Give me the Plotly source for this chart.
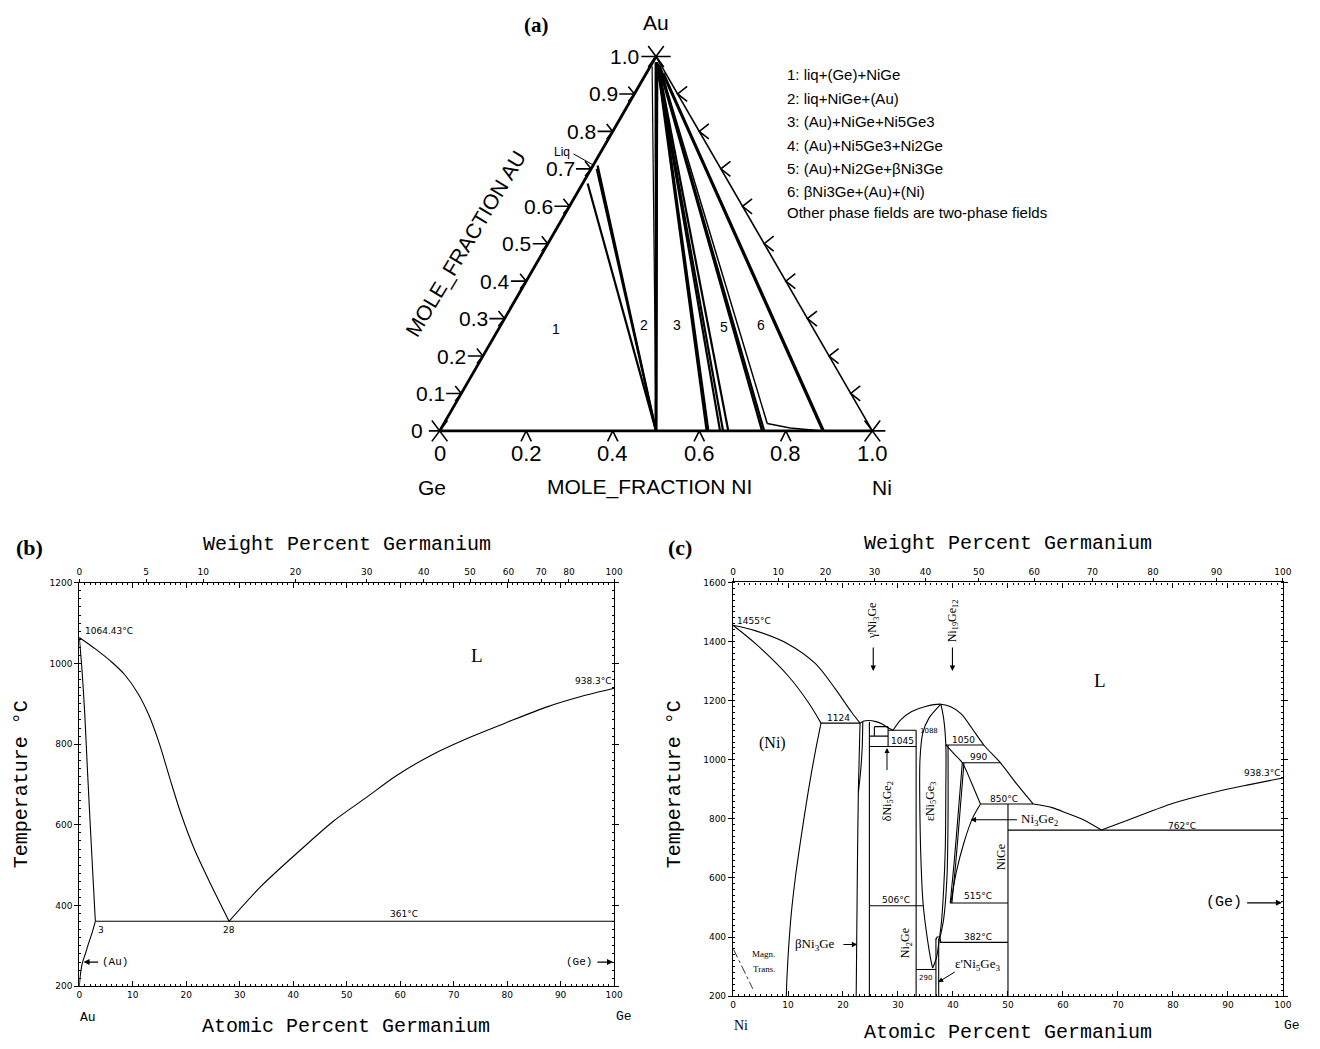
import plotly.graph_objects as go

W, H = 1320, 1049
M_AU, M_GE, M_NI = 196.97, 72.63, 58.69

# ---------------- Panel (a): Au-Ge-Ni isothermal section (mole fractions) ----------------
au_tick_vals = [0.0, 0.1, 0.2, 0.3, 0.4, 0.5, 0.6, 0.7, 0.8, 0.9, 1.0]
au_tick_text = ["0", "0.1", "0.2", "0.3", "0.4", "0.5", "0.6", "0.7", "0.8", "0.9", "1.0"]
ni_tick_vals = [0.0, 0.2, 0.4, 0.6, 0.8, 1.0]
ni_tick_text = ["0", "0.2", "0.4", "0.6", "0.8", "1.0"]
# tie lines: start (x_Ni, x_Au) -> end (x_Ni, x_Au)
tie_start_ni = [0.0105, 0.013, 0.0115, 0.004, 0.007, 0.010, 0.012, 0.010, 0.015, 0.012, 0.016, 0.018, 0.015, 0.020, 0.025, 0.020, 0.040]
tie_start_au = [0.709, 0.700, 0.661, 0.974, 0.985, 0.985, 0.980, 0.985, 0.980, 0.980, 0.975, 0.975, 0.980, 0.975, 0.970, 0.975, 0.955]
tie_end_ni = [0.500, 0.500, 0.500, 0.500, 0.500, 0.500, 0.500, 0.617, 0.621, 0.648, 0.655, 0.667, 0.745, 0.750, 0.747, 0.885, 0.888]
tie_end_au = [0.0, 0.0, 0.0, 0.0, 0.0, 0.0, 0.0, 0.0, 0.0, 0.0, 0.0, 0.0, 0.0, 0.0, 0.020, 0.0, 0.0]
tie_width = [2.2, 2.2, 2.2, 1.2, 2.5, 2.5, 2.5, 2.2, 2.2, 2.2, 2.2, 2.2, 2.2, 2.2, 1.5, 2.2, 2.2]
ni3ge_bound_ni = [0.747, 0.806, 0.885]
ni3ge_bound_au = [0.020, 0.008, 0.0]
region_labels = ["1", "2", "3", "5", "6"]
region_ni = [0.132, 0.330, 0.406, 0.517, 0.602]
region_au = [0.272, 0.283, 0.283, 0.278, 0.283]
legend_lines = ["1: liq+(Ge)+NiGe", "2: liq+NiGe+(Au)", "3: (Au)+NiGe+Ni5Ge3",
                "4: (Au)+Ni5Ge3+Ni2Ge", "5: (Au)+Ni2Ge+βNi3Ge", "6: βNi3Ge+(Au)+(Ni)",
                "Other phase fields are two-phase fields"]

# ---------------- Panel (b): Au-Ge binary ----------------
b_wt_ticks = [0, 5, 10, 20, 30, 40, 50, 60, 70, 80, 100]
b_liq_au_x = [0, 3, 6.1, 8.5, 11, 13, 15, 17, 19, 21.5, 24.6, 28]
b_liq_au_t = [1064.43, 1036, 1003, 972, 925, 872, 800, 712, 628, 540, 452, 361]
b_liq_ge_x = [28, 34, 41.3, 47.5, 53.7, 59.2, 66, 73.4, 79.6, 87.6, 93.8, 100]
b_liq_ge_t = [361, 448, 537, 609, 668, 721, 774, 819, 852, 893, 918, 938.3]
b_sol_x = [0, 0.5, 1.0, 1.5, 2.2, 3]
b_sol_t = [1064.43, 985, 880, 742, 560, 361]
b_solv_x = [3, 2.4, 1.7, 1.2, 0.6, 0.2, 0]
b_solv_t = [361, 333, 305, 283, 259, 228, 200]
b_eut_x = [3, 100]
b_eut_t = [361, 361]

# ---------------- Panel (c): Ni-Ge binary ----------------
c_wt_ticks = [0, 10, 20, 30, 40, 50, 60, 70, 80, 90, 100]
# name: (at.% Ge, temperature, smooth?)
c_lines = {
    "liq_ni": ([0, 4, 10, 15, 18.6, 21.6, 23.1], [1455, 1437, 1392, 1325, 1240, 1160, 1124], True),
    "sol_ni": ([0, 4.2, 10.2, 13.8, 16], [1455, 1391, 1280, 1191, 1124], True),
    "solv_ni": ([16, 15.2, 14.3, 13.4, 12.4, 11.4, 10.6, 10.1, 9.8, 9.7], [1124, 1050, 960, 860, 740, 610, 480, 360, 260, 200], True),
    "eut_1124": ([16, 23.1], [1124, 1124], False),
    "ni3ge_l": ([23.1, 22.8, 22.6, 22.4], [1124, 900, 600, 200], True),
    "ni3ge_m": ([23.6, 23.5, 23.2, 22.8], [1128, 1045, 960, 890], True),
    "ni3ge_r": ([24.8, 24.8], [1128, 200], False),
    "dome_s": ([23.1, 23.8, 24.6, 26, 27.2, 28.2, 29.1], [1124, 1131, 1133, 1129, 1120, 1108, 1100], True),
    "dome_b": ([29.1, 30.5, 32.5, 35, 37.8, 39.5, 41.5, 43.5, 45.6, 48.6, 51.5, 54.6],
               [1100, 1135, 1163, 1180, 1188, 1180, 1155, 1105, 1050, 990, 920, 850], True),
    "l_1100": ([28.2, 33.3], [1100, 1100], False),
    "l_1045": ([24.8, 33.3], [1045, 1045], False),
    "l_box1": ([24.8, 28.2], [1080, 1080], False),
    "l_box2": ([25.7, 28.2], [1112, 1112], False),
    "v_box1": ([25.7, 25.7], [1112, 1080], False),
    "v_box2": ([28.2, 28.2], [1112, 1045], False),
    "ni2ge": ([33.3, 33.3], [1100, 200], False),
    "eps_l": ([37.8, 35.6, 34.5, 34.0, 34.0, 34.3, 34.6, 35.3, 36.0, 36.3], [1188, 1140, 1090, 1000, 800, 600, 506, 400, 320, 295], True),
    "eps_r": ([37.8, 38.3, 38.7, 38.7, 38.6, 38.3, 37.9, 37.5, 37.0, 36.3], [1188, 1140, 1050, 900, 700, 560, 450, 391, 330, 295], True),
    "ni19_r": ([39.1, 39.1, 38.9, 38.3, 37.6], [1050, 800, 600, 460, 395], True),
    "l_506": ([24.8, 34.6], [506, 506], False),
    "l_290": ([33.3, 36.9], [290, 290], False),
    "epsp_l": ([36.9, 36.9], [395, 200], False),
    "epsp_r": ([37.4, 37.4], [395, 200], False),
    "epsp_cap": ([36.9, 37.1, 37.6, 37.8], [392, 400, 400, 382], False),
    "l_1050": ([38.7, 45.6], [1050, 1050], False),
    "l_990": ([41.7, 48.6], [990, 990], False),
    "curve_1050": ([38.7, 40.2, 41.7, 43.3, 45.0], [1050, 1020, 990, 925, 850], True),
    "ni3ge2_a": ([41.7, 41.0, 40.2, 39.5], [990, 830, 650, 515], True),
    "ni3ge2_b": ([42.0, 41.3, 40.5, 39.8], [990, 830, 650, 515], True),
    "ni3ge2_c": ([45.0, 43.5, 42.0, 40.6, 39.6], [850, 800, 720, 620, 515], True),
    "l_515": ([39.5, 50], [515, 515], False),
    "l_382": ([37.6, 50], [382, 382], False),
    "l_850": ([45.0, 54.6], [850, 850], False),
    "nige": ([50, 50], [850, 200], False),
    "liq_mid": ([54.6, 58, 60.6, 63.7, 67], [850, 838, 820, 797, 762], True),
    "liq_ge": ([67, 72.7, 79.9, 87.7, 93.7, 100], [762, 802, 852, 891, 915, 938.3], True),
    "eut_762": ([50, 100], [762, 762], False),
}
magn_x = [0.1, 3.6]
magn_t = [358, 225]


def wt_to_at(w, m_other):
    if w <= 0:
        return 0.0
    if w >= 100:
        return 100.0
    g = w / M_GE
    o = (100.0 - w) / m_other
    return 100.0 * g / (g + o)


def proj(ni, au):
    return ni + 0.5 * au, au


fig = go.Figure()
BLK = "black"

# ---- panel (a) frame: triangle, ticks, corner marks ----
for (n0, a0, n1, a1, w) in [(0, 0, 0, 1, 2.8), (0, 0, 1, 0, 2.8), (0, 1, 1, 0, 1.6)]:
    X0, Y0 = proj(n0, a0)
    X1, Y1 = proj(n1, a1)
    fig.add_trace(go.Scatter(x=[X0, X1], y=[Y0, Y1], mode="lines", line=dict(color=BLK, width=w),
                             xaxis="x", yaxis="y", hoverinfo="skip", showlegend=False))
mx, my = [-0.025, 1.03, None, 0.466, 0.534, None], [0, 0, None, 1.0, 1.0, None]
for (n, a) in [(0, 0), (0, 1), (1, 0)]:
    X, Y = proj(n, a)
    mx += [X - 0.018, X + 0.018, None, X - 0.018, X + 0.018, None]
    my += [Y - 0.028, Y + 0.028, None, Y + 0.028, Y - 0.028, None]
for a in au_tick_vals[1:-1]:
    X, Y = proj(0, a)
    mx += [X - 0.035, X, None, X - 0.014, X, X - 0.014, None]
    my += [Y, Y, None, Y + 0.02, Y, Y - 0.02, None]
for a in au_tick_vals[1:-1]:
    X, Y = proj(1 - a, a)
    mx += [X + 0.022, X, X + 0.022, None]
    my += [Y + 0.02, Y, Y - 0.02, None]
for n in ni_tick_vals[1:-1]:
    X, Y = proj(n, 0)
    mx += [X - 0.012, X, X + 0.012, None]
    my += [-0.028, 0, -0.028, None]
fig.add_trace(go.Scatter(x=mx, y=my, mode="lines", line=dict(color=BLK, width=1.6),
                         xaxis="x", yaxis="y", hoverinfo="skip", showlegend=False))
for sn, sa, en, ea, w in zip(tie_start_ni, tie_start_au, tie_end_ni, tie_end_au, tie_width):
    X0, Y0 = proj(sn, sa)
    X1, Y1 = proj(en, ea)
    fig.add_trace(go.Scatter(x=[X0, X1], y=[Y0, Y1], mode="lines", line=dict(color=BLK, width=w),
                             xaxis="x", yaxis="y", hoverinfo="skip", showlegend=False))
bx = [proj(n, a)[0] for n, a in zip(ni3ge_bound_ni, ni3ge_bound_au)]
by = [proj(n, a)[1] for n, a in zip(ni3ge_bound_ni, ni3ge_bound_au)]
fig.add_trace(go.Scatter(x=bx, y=by, mode="lines", line=dict(color=BLK, width=1.5),
                         xaxis="x", yaxis="y", hoverinfo="skip", showlegend=False))

ann = []
SANS = "Liberation Sans, Arial, sans-serif"
SERIF = "Liberation Serif, Times New Roman, serif"
MONO = "Liberation Mono, Courier New, monospace"
SMALL = "DejaVu Sans, sans-serif"


def pa(px, py, text, font, **kw):
    d = dict(x=px / W, y=1 - py / H, xref="paper", yref="paper", text=text, showarrow=False,
             xanchor="center", yanchor="middle", font=font)
    d.update(kw)
    return d


for a, t in zip(au_tick_vals, au_tick_text):
    X, Y = proj(0, a)
    ann.append(dict(x=X - 0.036, y=Y, xref="x", yref="y", text=t, showarrow=False, xanchor="right",
                    yanchor="middle", borderpad=0, font=dict(family=SANS, size=21, color=BLK)))
for n, t in zip(ni_tick_vals, ni_tick_text):
    ann.append(dict(x=n, y=-0.06, xref="x", yref="y", text=t, showarrow=False, xanchor="center",
                    yanchor="middle", font=dict(family=SANS, size=22, color=BLK)))
for t, n, a in zip(region_labels, region_ni, region_au):
    X, Y = proj(n, a)
    ann.append(dict(x=X, y=Y, xref="x", yref="y", text=t, showarrow=False,
                    font=dict(family=SANS, size=14, color=BLK)))
lx, ly = proj(tie_start_ni[0], tie_start_au[0])
ann.append(dict(x=lx - 0.008, y=ly, xref="x", yref="y", ax=0.306, ay=0.742, axref="x", ayref="y",
                text="", showarrow=True, arrowhead=0, arrowwidth=1, arrowcolor=BLK))
ann.append(dict(x=0.303, y=0.746, xref="x", yref="y", text="Liq", showarrow=False, borderpad=0,
                font=dict(family=SANS, size=12, color=BLK), xanchor="right", yanchor="middle"))
ann.append(dict(x=0.5, y=1.09, xref="x", yref="y", text="Au", showarrow=False,
                font=dict(family=SANS, size=21, color=BLK)))
ann.append(dict(x=-0.018, y=-0.151, xref="x", yref="y", text="Ge", showarrow=False,
                font=dict(family=SANS, size=21, color=BLK)))
ann.append(dict(x=1.023, y=-0.151, xref="x", yref="y", text="Ni", showarrow=False,
                font=dict(family=SANS, size=21, color=BLK)))
ann.append(dict(x=0.484, y=-0.151, xref="x", yref="y", text="MOLE_FRACTION NI", showarrow=False,
                font=dict(family=SANS, size=21, color=BLK)))
ann.append(dict(x=0.061, y=0.499, xref="x", yref="y", text="MOLE_FRACTION AU", showarrow=False,
                textangle=-59, font=dict(family=SANS, size=21, color=BLK)))
ann.append(pa(538, 20, "<b>(a)</b>", dict(family=SERIF, size=21, color=BLK)))
leg_y = [70, 94, 118, 142, 165, 188, 210]
for t, py in zip(legend_lines, leg_y):
    ann.append(pa(789, py, t, dict(family=SANS, size=15, color=BLK), xanchor="left"))


def line_trace(xs, ys, xa, ya, width=1.1, dash="solid", smooth=False):
    fig.add_trace(go.Scatter(x=xs, y=ys, mode="lines",
                             line=dict(color=BLK, width=width, dash=dash,
                                       shape="spline" if smooth else "linear", smoothing=0.8),
                             xaxis=xa, yaxis=ya, hoverinfo="skip", showlegend=False))


# ---- panel (b) ----
for xs, ys, sm_ in [(b_liq_au_x, b_liq_au_t, True), (b_liq_ge_x, b_liq_ge_t, True), (b_sol_x, b_sol_t, True),
                    (b_solv_x, b_solv_t, True), (b_eut_x, b_eut_t, False)]:
    line_trace(xs, ys, "x2", "y2", smooth=sm_)
fig.add_trace(go.Scatter(x=[0, 100], y=[None, None], mode="lines", xaxis="x3", yaxis="y2",
                         showlegend=False, hoverinfo="skip"))

sm = dict(family=SMALL, size=9, color=BLK)
mono11 = dict(family=MONO, size=11, color=BLK)
ann += [
    dict(x=0.6, y=1080, xref="x2", yref="y2", text="1064.43°C", showarrow=False, xanchor="left", font=sm),
    dict(x=74.3, y=1019, xref="x2", yref="y2", text="L", showarrow=False, font=dict(family=SERIF, size=19, color=BLK)),
    dict(x=100, y=956, xref="x2", yref="y2", text="938.3°C", showarrow=False, xanchor="right", font=sm),
    dict(x=60.7, y=380, xref="x2", yref="y2", text="361°C", showarrow=False, font=sm),
    dict(x=3.2, y=340, xref="x2", yref="y2", text="3", showarrow=False, xanchor="left", font=sm),
    dict(x=28, y=340, xref="x2", yref="y2", text="28", showarrow=False, font=sm),
    dict(x=0.8, y=260, xref="x2", yref="y2", ax=3.8, ay=260, axref="x2", ayref="y2", text="",
         showarrow=True, arrowhead=2, arrowsize=1, arrowwidth=1.2, arrowcolor=BLK),
    dict(x=3.9, y=260, xref="x2", yref="y2", text="(Au)", showarrow=False, xanchor="left", font=mono11),
    dict(x=99.8, y=260, xref="x2", yref="y2", ax=96.6, ay=260, axref="x2", ayref="y2", text="",
         showarrow=True, arrowhead=2, arrowsize=1, arrowwidth=1.2, arrowcolor=BLK),
    dict(x=96.3, y=260, xref="x2", yref="y2", text="(Ge)", showarrow=False, xanchor="right", font=mono11),
    pa(86, 1022, "Au", dict(family=MONO, size=13, color=BLK)),
    pa(627, 1021, "Ge", dict(family=MONO, size=13, color=BLK)),
    pa(27, 548, "<b>(b)</b>", dict(family=SERIF, size=22, color=BLK)),
    pa(347, 545, "Weight Percent Germanium", dict(family=MONO, size=20, color=BLK)),
    pa(346, 1031, "Atomic Percent Germanium", dict(family=MONO, size=20, color=BLK)),
    pa(19, 787, "Temperature °C", dict(family=MONO, size=20, color=BLK), textangle=-90),
]

# ---- panel (c) ----
for key, (xs, ys, smooth) in c_lines.items():
    line_trace(xs, ys, "x4", "y3", smooth=smooth)
line_trace(magn_x, magn_t, "x4", "y3", width=0.8, dash="dashdot")
fig.add_trace(go.Scatter(x=[0, 100], y=[None, None], mode="lines", xaxis="x5", yaxis="y3",
                         showlegend=False, hoverinfo="skip"))

tiny = dict(family=SMALL, size=7, color=BLK)
ser12 = dict(family=SERIF, size=12, color=BLK)
ser13 = dict(family=SERIF, size=13, color=BLK)
ann += [
    dict(x=0.3, y=1470, xref="x4", yref="y3", text="1455°C", showarrow=False, xanchor="left", font=sm),
    dict(x=19.1, y=1140, xref="x4", yref="y3", text="1124", showarrow=False, font=sm),
    dict(x=7.2, y=1058, xref="x4", yref="y3", text="(Ni)", showarrow=False, font=dict(family=SERIF, size=16, color=BLK)),
    dict(x=30.9, y=1062, xref="x4", yref="y3", text="1045", showarrow=False, font=sm),
    dict(x=35.6, y=1098, xref="x4", yref="y3", text="1088", showarrow=False, font=tiny),
    dict(x=41.9, y=1066, xref="x4", yref="y3", text="1050", showarrow=False, font=sm),
    dict(x=44.6, y=1008, xref="x4", yref="y3", text="990", showarrow=False, font=sm),
    dict(x=49.2, y=867, xref="x4", yref="y3", text="850°C", showarrow=False, font=sm),
    dict(x=52.0, y=797, xref="x4", yref="y3", text="Ni<sub>3</sub>Ge<sub>2</sub>", showarrow=False,
         xanchor="left", font=ser13),
    dict(x=43.2, y=797, xref="x4", yref="y3", ax=51.9, ay=797, axref="x4", ayref="y3", text="",
         showarrow=True, arrowhead=2, arrowsize=1, arrowwidth=1.1, arrowcolor=BLK),
    dict(x=48.6, y=672, xref="x4", yref="y3", text="NiGe", showarrow=False, textangle=-90, font=ser12),
    dict(x=44.6, y=538, xref="x4", yref="y3", text="515°C", showarrow=False, font=sm),
    dict(x=44.6, y=400, xref="x4", yref="y3", text="382°C", showarrow=False, font=sm),
    dict(x=40.0, y=308, xref="x4", yref="y3", text="ε'Ni<sub>5</sub>Ge<sub>3</sub>", showarrow=False,
         xanchor="left", font=ser13),
    dict(x=37.3, y=247, xref="x4", yref="y3", ax=40.6, ay=285, axref="x4", ayref="y3", text="",
         showarrow=True, arrowhead=2, arrowsize=1, arrowwidth=1.0, arrowcolor=BLK),
    dict(x=35.0, y=262, xref="x4", yref="y3", text="290", showarrow=False, font=tiny),
    dict(x=31.5, y=380, xref="x4", yref="y3", text="Ni<sub>2</sub>Ge", showarrow=False, textangle=-90, font=ser12),
    dict(x=29.7, y=527, xref="x4", yref="y3", text="506°C", showarrow=False, font=sm),
    dict(x=28.2, y=860, xref="x4", yref="y3", text="δNi<sub>5</sub>Ge<sub>2</sub>", showarrow=False,
         textangle=-90, font=ser12),
    dict(x=28.0, y=1040, xref="x4", yref="y3", ax=28.0, ay=960, axref="x4", ayref="y3", text="",
         showarrow=True, arrowhead=2, arrowsize=1, arrowwidth=1.0, arrowcolor=BLK),
    dict(x=36.0, y=860, xref="x4", yref="y3", text="εNi<sub>5</sub>Ge<sub>3</sub>", showarrow=False,
         textangle=-90, font=ser12),
    dict(x=15.0, y=375, xref="x4", yref="y3", text="βNi<sub>3</sub>Ge", showarrow=False, font=ser13),
    dict(x=22.6, y=375, xref="x4", yref="y3", ax=19.8, ay=375, axref="x4", ayref="y3", text="",
         showarrow=True, arrowhead=2, arrowsize=1, arrowwidth=1.1, arrowcolor=BLK),
    dict(x=3.0, y=341, xref="x4", yref="y3", text="Magn.", showarrow=False, xanchor="left",
         font=dict(family=SERIF, size=9, color=BLK)),
    dict(x=3.2, y=291, xref="x4", yref="y3", text="Trans.", showarrow=False, xanchor="left",
         font=dict(family=SERIF, size=9, color=BLK)),
    dict(x=66.7, y=1269, xref="x4", yref="y3", text="L", showarrow=False, font=dict(family=SERIF, size=19, color=BLK)),
    dict(x=81.7, y=777, xref="x4", yref="y3", text="762°C", showarrow=False, font=sm),
    dict(x=100, y=954, xref="x4", yref="y3", text="938.3°C", showarrow=False, xanchor="right", font=sm),
    dict(x=99.8, y=516, xref="x4", yref="y3", ax=93.2, ay=516, axref="x4", ayref="y3", text="",
         showarrow=True, arrowhead=2, arrowsize=1, arrowwidth=1.2, arrowcolor=BLK),
    dict(x=93.0, y=516, xref="x4", yref="y3", text="(Ge)", showarrow=False, xanchor="right",
         font=dict(family=MONO, size=15, color=BLK)),
    dict(x=25.5, y=1470, xref="x4", yref="y3", text="γNi<sub>3</sub>Ge", showarrow=False, textangle=-90, font=ser12),
    dict(x=25.5, y=1300, xref="x4", yref="y3", ax=25.5, ay=1385, axref="x4", ayref="y3", text="",
         showarrow=True, arrowhead=2, arrowsize=1, arrowwidth=1.1, arrowcolor=BLK),
    dict(x=39.9, y=1470, xref="x4", yref="y3", text="Ni<sub>19</sub>Ge<sub>12</sub>", showarrow=False,
         textangle=-90, font=ser12),
    dict(x=39.9, y=1300, xref="x4", yref="y3", ax=39.9, ay=1385, axref="x4", ayref="y3", text="",
         showarrow=True, arrowhead=2, arrowsize=1, arrowwidth=1.1, arrowcolor=BLK),
    pa(745, 1030, "Ni", dict(family=SERIF, size=14, color=BLK)),
    pa(1301, 1030, "Ge", dict(family=MONO, size=13, color=BLK)),
    pa(683, 548, "<b>(c)</b>", dict(family=SERIF, size=22, color=BLK)),
    pa(1014, 544, "Weight Percent Germanium", dict(family=MONO, size=20, color=BLK)),
    pa(1014, 1037, "Atomic Percent Germanium", dict(family=MONO, size=20, color=BLK)),
    pa(678, 787, "Temperature °C", dict(family=MONO, size=20, color=BLK), textangle=-90),
]

tickfont = dict(family=SMALL, size=9, color=BLK)
hidden = dict(visible=False, showgrid=False, zeroline=False)


def at_axis(domain, anchor):
    return dict(domain=domain, anchor=anchor, range=[0, 100], dtick=10, tick0=0, ticks="inside", ticklen=5,
                tickwidth=1, tickcolor=BLK, showline=True, linecolor=BLK, linewidth=1.2, mirror="ticks",
                showgrid=False, zeroline=False, tickfont=tickfont,
                minor=dict(dtick=1, ticks="inside", ticklen=2, tickcolor=BLK, tickwidth=1))


def wt_axis(overlay, anchor, ticks_wt, m_other):
    vals = [wt_to_at(w, m_other) for w in ticks_wt]
    return dict(overlaying=overlay, anchor=anchor, side="top", range=[0, 100], tickmode="array",
                tickvals=vals, ticktext=[str(w) for w in ticks_wt], ticks="outside", ticklen=3,
                tickcolor=BLK, showline=False, showgrid=False, zeroline=False, tickfont=tickfont)


def t_axis(domain, anchor, rng):
    return dict(domain=domain, anchor=anchor, range=rng, dtick=200, tick0=0, ticks="outside", ticklen=4,
                tickcolor=BLK, showline=True, linecolor=BLK, linewidth=1.2, mirror="ticks", showgrid=False,
                zeroline=False, tickfont=tickfont,
                minor=dict(dtick=20, ticks="inside", ticklen=2, tickcolor=BLK, tickwidth=1))


fig.update_layout(
    width=W, height=H, autosize=False, margin=dict(l=0, r=0, t=0, b=0),
    paper_bgcolor="white", plot_bgcolor="rgba(0,0,0,0)", showlegend=False,
    xaxis=dict(domain=[397 / W, 921 / W], range=[-0.1, 1.1], anchor="y", **hidden),
    yaxis=dict(domain=[1 - 505.6 / H, 1 - 2.9 / H], range=[-0.2, 1.13], anchor="x", **hidden),
    xaxis2=at_axis([77 / W, 616.7 / W], "y2"),
    xaxis3=wt_axis("x2", "y2", b_wt_ticks, M_AU),
    yaxis2=t_axis([1 - 990.7 / H, 1 - 583.3 / H], "x2", [200, 1200]),
    xaxis4=at_axis([736.7 / W, 1291.7 / W], "y3"),
    xaxis5=wt_axis("x4", "y3", c_wt_ticks, M_NI),
    yaxis3=t_axis([1 - 1000.7 / H, 1 - 583 / H], "x4", [200, 1600]),
    annotations=ann,
)

fig.write_html("out.html")
